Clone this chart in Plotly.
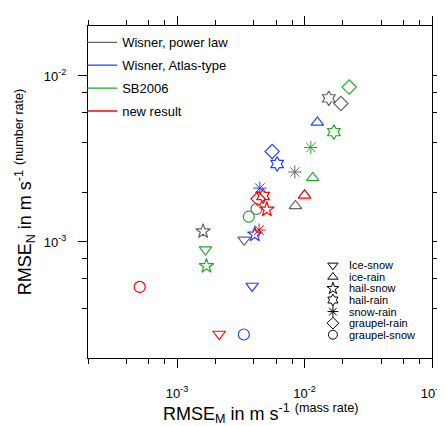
import math
import plotly.graph_objects as go

# ---------------- data ----------------
categories = ["Ice-snow", "ice-rain", "hail-snow", "hail-rain",
              "snow-rain", "graupel-rain", "graupel-snow"]
symbols = ["triangle-down-open", "triangle-up-open", "star-open", "hexagram-open",
           "asterisk-open", "diamond-open", "circle-open"]
symbol_widths = [1.2, 1.2, 1.2, 1.2, 1.0, 1.2, 1.2]

models = ["Wisner, power law", "Wisner, Atlas-type", "SB2006", "new result"]
colors = ["#666666", "#2040ff", "#22aa22", "#ff0000"]

# RMSE_M (mass rate) per category, for each model
rmse_m_power = [3.36e-3, 8.49e-3, 1.60e-3, 1.55e-2, 8.39e-3, 1.93e-2, 4.20e-3]
rmse_m_atlas = [3.88e-3, 1.26e-2, 4.07e-3, 6.10e-3, 4.46e-3, 5.57e-3, 3.34e-3]
rmse_m_sb = [1.67e-3, 1.16e-2, 1.70e-3, 1.70e-2, 1.12e-2, 2.24e-2, 3.65e-3]
rmse_m_new = [2.14e-3, 1.00e-2, 5.06e-3, 4.73e-3, 4.40e-3, 4.32e-3, 5.09e-4]

# RMSE_N (number rate) per category, for each model
rmse_n_power = [1.03e-3, 1.65e-3, 1.16e-3, 7.33e-3, 2.64e-3, 6.83e-3, 1.58e-3]
rmse_n_atlas = [5.43e-4, 5.25e-3, 1.11e-3, 2.95e-3, 2.11e-3, 3.51e-3, 2.77e-4]
rmse_n_sb = [9.00e-4, 2.43e-3, 7.16e-4, 4.59e-3, 3.71e-3, 8.57e-3, 1.42e-3]
rmse_n_new = [2.79e-4, 1.91e-3, 1.57e-3, 1.89e-3, 1.18e-3, 1.82e-3, 5.36e-4]

x_ticks = [1e-3, 1e-2, 1e-1]
x_ticktext = ["10<sup>-3</sup>", "10<sup>-2</sup>", "10<sup>-1</sup>"]
y_ticks = [1e-3, 1e-2]
y_ticktext = ["10<sup>-3</sup>", "10<sup>-2</sup>"]
x_minor = [2e-4, 4e-4, 6e-4, 8e-4, 2e-3, 4e-3, 6e-3, 8e-3, 2e-2, 4e-2, 6e-2, 8e-2]
y_minor = [4e-4, 6e-4, 8e-4, 2e-3, 4e-3, 6e-3, 8e-3]
x_range = [2e-4, 1e-1]
y_range = [2e-4, 2e-2]

series_m = [rmse_m_power, rmse_m_atlas, rmse_m_sb, rmse_m_new]
series_n = [rmse_n_power, rmse_n_atlas, rmse_n_sb, rmse_n_new]

FONT = "Liberation Sans, Arial, Helvetica, sans-serif"

fig = go.Figure()

# data marks
for name, col, xs, ys in zip(models, colors, series_m, series_n):
    fig.add_trace(go.Scatter(
        x=xs, y=ys, mode="markers", name=name, showlegend=False,
        text=categories,
        marker=dict(symbol=symbols, size=11, color=col,
                    line=dict(color=col, width=symbol_widths)),
    ))

# colour legend (lines)
for i, (name, col) in enumerate(zip(models, colors)):
    fig.add_trace(go.Scatter(
        x=[None], y=[None], mode="lines", name=name, legendgroup=f"g{i}",
        line=dict(color=col, width=1.3), showlegend=True,
    ))

# symbol legend drawn on an overlay axis (0..1 in each direction)
leg_top, leg_step, leg_x = 0.279, 0.0348, 0.712
leg_y = [leg_top - i * leg_step for i in range(len(categories))]
fig.add_trace(go.Scatter(
    x=[leg_x] * len(categories), y=leg_y, xaxis="x2", yaxis="y2",
    mode="markers", showlegend=False, hoverinfo="skip",
    marker=dict(symbol=symbols, size=9, color="black",
                line=dict(color="black", width=1)),
))
annotations = []
for lab, yy in zip(categories, leg_y):
    annotations.append(dict(
        x=0.752, y=yy, xref="paper", yref="paper", text=lab, showarrow=False,
        xanchor="left", yanchor="middle", font=dict(size=11, color="black", family=FONT)))

# axis titles
annotations.append(dict(
    x=0.5, y=-0.167, xref="paper", yref="paper", showarrow=False,
    xanchor="center", yanchor="middle",
    text="RMSE<sub>M</sub> in m s<sup>-1</sup> <sup>(mass rate)</sup>",
    font=dict(size=18, color="black", family=FONT)))
annotations.append(dict(
    x=-0.185, y=0.5, xref="paper", yref="paper", showarrow=False,
    xanchor="center", yanchor="middle", textangle=-90,
    text="RMSE<sub>N</sub> in m s<sup>-1</sup> <sup>(number rate)</sup>",
    font=dict(size=18, color="black", family=FONT)))

axis_common = dict(
    type="log", showgrid=False, zeroline=False, showline=True,
    linecolor="black", linewidth=1, mirror="allticks",
    ticks="outside", ticklen=9, tickwidth=1, tickcolor="black",
    tickfont=dict(size=13, color="black", family=FONT),
)

# the page body adds an 8px offset, so the margins compensate for it
fig.update_layout(
    width=445, height=426,
    margin=dict(l=80, r=21, t=8, b=76),
    paper_bgcolor="white", plot_bgcolor="white",
    font=dict(family=FONT, color="black"),
    xaxis=dict(**axis_common,
               range=[math.log10(x_range[0]), math.log10(x_range[1])],
               tickvals=x_ticks, ticktext=x_ticktext, ticklabelstandoff=14,
               minor=dict(tickvals=x_minor, ticks="outside", ticklen=5,
                          tickcolor="black", tickwidth=1, showgrid=False)),
    yaxis=dict(**axis_common,
               range=[math.log10(y_range[0]), math.log10(y_range[1])],
               tickvals=y_ticks, ticktext=y_ticktext, ticklabelstandoff=9,
               minor=dict(tickvals=y_minor, ticks="outside", ticklen=5,
                          tickcolor="black", tickwidth=1, showgrid=False)),
    xaxis2=dict(overlaying="x", range=[0, 1], visible=False, fixedrange=True),
    yaxis2=dict(overlaying="y", range=[0, 1], visible=False, fixedrange=True),
    legend=dict(x=-0.017, y=0.996, xanchor="left", yanchor="top",
                bgcolor="rgba(0,0,0,0)", borderwidth=0,
                font=dict(size=13, color="black", family=FONT),
                tracegroupgap=3, traceorder="grouped"),
    annotations=annotations,
    showlegend=True,
)

fig.write_html("out.html")
